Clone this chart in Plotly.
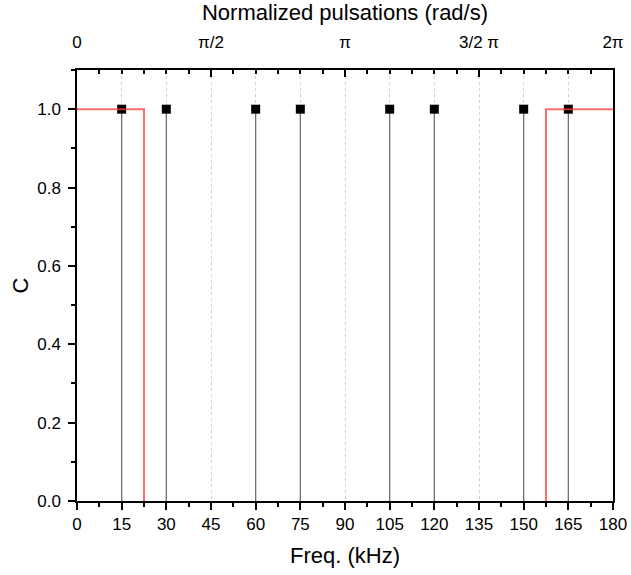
import plotly.graph_objects as go

# Data
freqs = [15, 30, 60, 75, 105, 120, 150, 165]
coefs = [1, 1, 1, 1, 1, 1, 1, 1]
# filter mask: passband 0-22.5 kHz and 157.5-180 kHz (stopband segment lies on the axis)
filter_x = [0, 22.5, 22.5, None, 157.5, 157.5, 180]
filter_y = [1, 1, 0, None, 0, 1, 1]
bottom_ticks = list(range(0, 181, 15))
top_tickvals = [0, 45, 90, 135, 180]
top_ticktext = ["0", "π/2", "π", "3/2 π", "2π"]
y_ticks = [0, 0.2, 0.4, 0.6, 0.8, 1.0]
y_ticktext = ["0.0", "0.2", "0.4", "0.6", "0.8", "1.0"]

FONT = "Liberation Sans, Arial, sans-serif"

stem_x, stem_y = [], []
for f, c in zip(freqs, coefs):
    stem_x += [f, f, None]
    stem_y += [0, c, None]

fig = go.Figure()
fig.add_trace(go.Scatter(x=stem_x, y=stem_y, mode="lines",
                         line=dict(color="#707070", width=1.3),
                         showlegend=False, hoverinfo="skip"))
fig.add_trace(go.Scatter(x=freqs, y=coefs, mode="markers",
                         marker=dict(symbol="square", size=9, color="black"),
                         showlegend=False))
fig.add_trace(go.Scatter(x=filter_x, y=filter_y, mode="lines",
                         line=dict(color="rgba(255,60,60,0.75)", width=2),
                         connectgaps=False, showlegend=False))
# invisible trace on top axis
fig.add_trace(go.Scatter(x=[0, 180], y=[0, 0], xaxis="x2", mode="markers",
                         marker=dict(opacity=0), showlegend=False, hoverinfo="skip"))

fig.update_layout(
    width=631, height=575,
    margin=dict(l=77, r=18, t=70, b=74),
    paper_bgcolor="white", plot_bgcolor="white",
    font=dict(family=FONT, size=17, color="black"),
    xaxis=dict(
        range=[0, 180], tickmode="array", tickvals=bottom_ticks,
        ticks="outside", ticklen=7, tickwidth=1.5, tickcolor="black",
        showline=True, linecolor="black", linewidth=1.5,
        showgrid=True, gridcolor="#d0d0d0", griddash="dot", gridwidth=1,
        zeroline=False, automargin=False, layer="above traces",
        minor=dict(dtick=7.5, tick0=0, ticks="outside", ticklen=4, tickcolor="black", tickwidth=1.5, showgrid=False),
        title=dict(text="Freq. (kHz)", font=dict(size=22), standoff=14),
        tickfont=dict(size=17),
    ),
    xaxis2=dict(
        range=[0, 180], overlaying="x", side="top", anchor="y",
        tickmode="array", tickvals=top_tickvals, ticktext=top_ticktext,
        ticks="inside", ticklen=7, tickwidth=1.5, tickcolor="black",
        showline=True, linecolor="black", linewidth=1.5,
        showgrid=False, zeroline=False, automargin=False,
        ticklabelstandoff=13,
        minor=dict(dtick=7.5, tick0=0, ticks="inside", ticklen=4, tickcolor="black", tickwidth=1.5, showgrid=False),
        title=dict(text="Normalized pulsations (rad/s)", font=dict(size=22), standoff=8),
        tickfont=dict(size=17),
    ),
    yaxis=dict(
        range=[0, 1.1], tickmode="array", tickvals=y_ticks, ticktext=y_ticktext,
        ticks="outside", ticklen=7, tickwidth=1.5, tickcolor="black",
        showline=True, linecolor="black", linewidth=1.5, mirror=True,
        showgrid=False, zeroline=False, automargin=False,
        ticklabelstandoff=4,
        minor=dict(dtick=0.1, tick0=0, ticks="outside", ticklen=4, tickcolor="black", tickwidth=1.5),
        title=dict(text="C", font=dict(size=22), standoff=3),
        tickfont=dict(size=17),
    ),
)

fig.write_html("out.html", config={"displayModeBar": False},
               post_script="document.body.style.margin='0';")
